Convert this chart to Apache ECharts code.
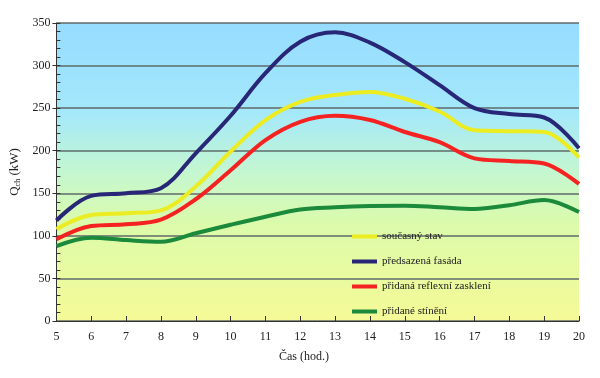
<!DOCTYPE html>
<html>
<head>
<meta charset="utf-8">
<script src="https://cdn.jsdelivr.net/npm/echarts@6/dist/echarts.min.js"></script>
<style>html,body{margin:0;padding:0;background:#fff}#c{width:600px;height:378px}</style>
</head>
<body>
<div id="c"></div>
<script>
var hours = [5,6,7,8,9,10,11,12,13,14,15,16,17,18,19,20];
var yTicks = [0,50,100,150,200,250,300,350];
var soucasnyStav   = [108,124.5,126.5,130,158,199,236,257.5,265.5,269,261,246,224,223,222,192];
var predsazenaFas  = [118,147,150,156,197,241,291,328,339,327,304,277,250,243,239,203];
var reflexniZask   = [96,111.6,113.6,119,143,177,212.5,234,241,236,222,210,191,188,185,161];
var pridaneStineni = [88,97.8,95,93,103,113,122.5,131,133.5,135,135.5,133.5,131.5,136,142,128];

var names = ['současný stav','předsazená fasáda','přidaná reflexní zasklení','přidané stínění'];
var colors = ['#ecec22','#272677','#f52222','#1b8a3b'];
var datasets = [soucasnyStav, predsazenaFas, reflexniZask, pridaneStineni];

function pairs(arr){ return hours.map(function(h,i){ return [h, arr[i]]; }); }

var font = 'Liberation Serif';
var chart = echarts.init(document.getElementById('c'), null, {renderer:'canvas'});
var series = datasets.map(function(d,i){
  return {
    name: names[i], type:'line', data: pairs(d), smooth:0.35, symbol:'none',
    lineStyle:{color:colors[i], width:4}, itemStyle:{color:colors[i]}, z: 5
  };
});
chart.setOption({
  animation:false,
  backgroundColor:'#ffffff',
  grid:{left:56,right:21,top:23,bottom:57,show:true,borderWidth:0,
    backgroundColor:{type:'linear',x:0,y:0,x2:0,y2:1,colorStops:[
      {offset:0,color:'#96dcff'},{offset:0.3,color:'#a4e8fb'},{offset:0.5,color:'#c4f7d0'},
      {offset:0.68,color:'#dcfbaa'},{offset:1,color:'#f5fa96'}]}},
  legend:{orient:'vertical',left:347,top:226,itemWidth:25,itemHeight:4,itemGap:14,
    icon:'rect',
    data:names.map(function(n,i){return {name:n,itemStyle:{color:colors[i]}};}),
    textStyle:{fontFamily:font,fontSize:11,color:'#222'}},
  xAxis:{type:'value',min:5,max:20,interval:1,
    axisLine:{lineStyle:{color:'#333',width:1}},
    axisTick:{inside:true,length:5,lineStyle:{color:'#333'}},
    axisLabel:{fontFamily:font,fontSize:12,color:'#222',margin:10,formatter:function(v){return hours.indexOf(v)>=0?String(v):'';}},
    splitLine:{show:false}},
  yAxis:[{type:'value',min:0,max:350,interval:50,
    axisLine:{show:true,lineStyle:{color:'#333',width:1}},
    axisTick:{show:true,length:4,lineStyle:{color:'#333'}},
    axisLabel:{fontFamily:font,fontSize:12,color:'#222',margin:6,formatter:function(v){return yTicks.indexOf(v)>=0?String(v):'';}},
    splitLine:{show:true,lineStyle:{color:'#5f6a6a',width:1.5}},
    name:'{q|Q}{s|ch}{q| (kW)}',nameLocation:'middle',nameRotate:90,nameGap:33,
    nameTextStyle:{fontFamily:font,color:'#222',rich:{q:{fontFamily:font,fontSize:13,color:'#222'},s:{fontFamily:font,fontSize:8,color:'#222',padding:[6,0,0,0]}}}
  },{type:'value',min:0,max:350,interval:10,position:'left',
    axisLine:{show:false},axisTick:{show:true,inside:true,length:4,lineStyle:{color:'#333'}},
    axisLabel:{show:false},splitLine:{show:false}}],
  graphic:[{type:'text',left:279,top:351,style:{text:'Čas (hod.)',font:'12px "Liberation Serif"',fill:'#222'}}],
  series:series
});
</script>
</body>
</html>
